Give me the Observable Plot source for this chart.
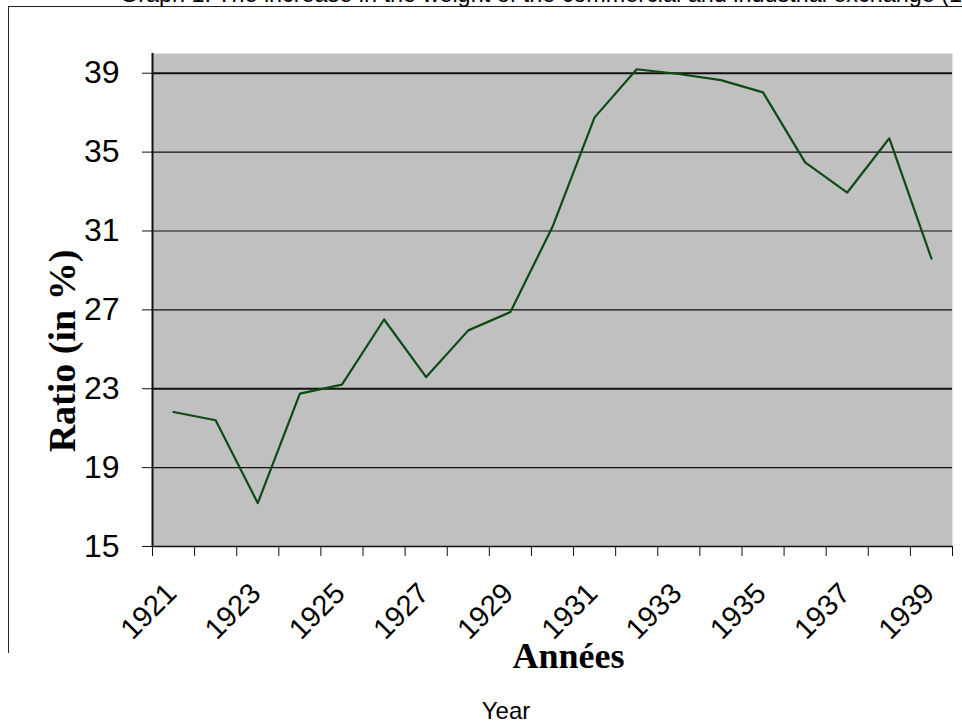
<!DOCTYPE html>
<html>
<head>
<meta charset="utf-8">
<script src="https://cdn.jsdelivr.net/npm/d3@7"></script>
<script src="https://cdn.jsdelivr.net/npm/@observablehq/plot@0.6"></script>
<style>
  html, body { margin: 0; padding: 0; background: #fff; overflow: hidden; }
  #wrap { position: relative; width: 962px; height: 725px; overflow: hidden; font-family: "Liberation Sans", Arial, sans-serif; }
  #chart { position: absolute; left: 0; top: 0; }
  #box { position: absolute; left: 8px; top: 6px; width: 960px; height: 646px; border-top: 1.5px solid #222; border-left: 1.5px solid #222; }
  #title { position: absolute; left: 120px; top: -18.5px; font-size: 23.4px; line-height: 24px; white-space: nowrap; color: #000; }
  #caption { position: absolute; left: 406px; width: 200px; top: 699px; font-size: 24px; line-height: 24px; text-align: center; color: #000; }
</style>
</head>
<body>
<div id="wrap">
  <div id="box"></div>
  <div id="chart"></div>
  <div id="title"></div>
  <div id="caption"></div>
</div>
<script>
const years = [1921, 1922, 1923, 1924, 1925, 1926, 1927, 1928, 1929, 1930, 1931, 1932, 1933, 1934, 1935, 1936, 1937, 1938, 1939];
const ratios = [21.82, 21.40, 17.20, 22.75, 23.21, 26.51, 23.59, 25.96, 26.89, 31.21, 36.76, 39.20, 38.96, 38.65, 38.03, 34.48, 32.95, 35.70, 29.60];
const yTicks = [15, 19, 23, 27, 31, 35, 39];
const xLabelYears = [1921, 1923, 1925, 1927, 1929, 1931, 1933, 1935, 1937, 1939];
const yLabel = "Ratio (in %)";
const xLabel = "Années";
const captionText = "Year";
const titleText = "Graph 1: The increase in the weight of the commercial and industrial exchange (1921-1939)";

document.getElementById("title").textContent = titleText;
document.getElementById("caption").textContent = captionText;

const data = years.map((year, i) => ({year, ratio: ratios[i]}));
const boundaries = [...years.map(y => y - 0.5), years[years.length - 1] + 0.5];
const xDomain = [boundaries[0], boundaries[boundaries.length - 1]];
const yDomain = [15, 40];
const thick = new Set([39, 23]);

const chart = Plot.plot({
  width: 962,
  height: 725,
  marginLeft: 152,
  marginRight: 10,
  marginTop: 53,
  marginBottom: 179,
  style: {background: "transparent", color: "#000", fontFamily: "'Liberation Sans', Arial, sans-serif"},
  x: {domain: xDomain, axis: null},
  y: {domain: yDomain, axis: null},
  marks: [
    Plot.frame({fill: "#c0c0c0", stroke: null}),
    Plot.ruleY(yTicks, {stroke: "#111", strokeWidth: d => thick.has(d) ? 2 : 1.2}),
    Plot.ruleX([xDomain[0]], {y1: yDomain[0], y2: yDomain[1], stroke: "#111", strokeWidth: 2}),
    Plot.ruleY([yDomain[0]], {stroke: "#111", strokeWidth: 1.5}),
    Plot.axisY({ticks: yTicks, tickSize: 10, tickPadding: 23, fontSize: 32, label: null, stroke: "#111"}),
    Plot.axisX({ticks: boundaries, tickSize: 10, tickFormat: () => "", label: null, stroke: "#111"}),
    Plot.axisX({ticks: xLabelYears, tickSize: 0, tickPadding: 42, tickRotate: -45, textAnchor: "end", lineAnchor: "middle", dx: -2, fontSize: 29, label: null, tickFormat: d => String(d)}),
    Plot.line(data, {x: "year", y: "ratio", stroke: "#0d4a14", strokeWidth: 2.2}),
    Plot.text([yLabel], {frameAnchor: "left", rotate: -90, dx: -90, dy: 51, textAnchor: "middle", lineAnchor: "middle", fontSize: 38, fontWeight: "bold", fontFamily: "'Liberation Serif', 'Times New Roman', serif", fill: "#000"}),
    Plot.text([xLabel], {frameAnchor: "bottom", dx: 16, dy: 121, textAnchor: "middle", lineAnchor: "bottom", fontSize: 36, fontWeight: "bold", fontFamily: "'Liberation Serif', 'Times New Roman', serif", fill: "#000"})
  ]
});
document.getElementById("chart").appendChild(chart);
</script>
</body>
</html>
